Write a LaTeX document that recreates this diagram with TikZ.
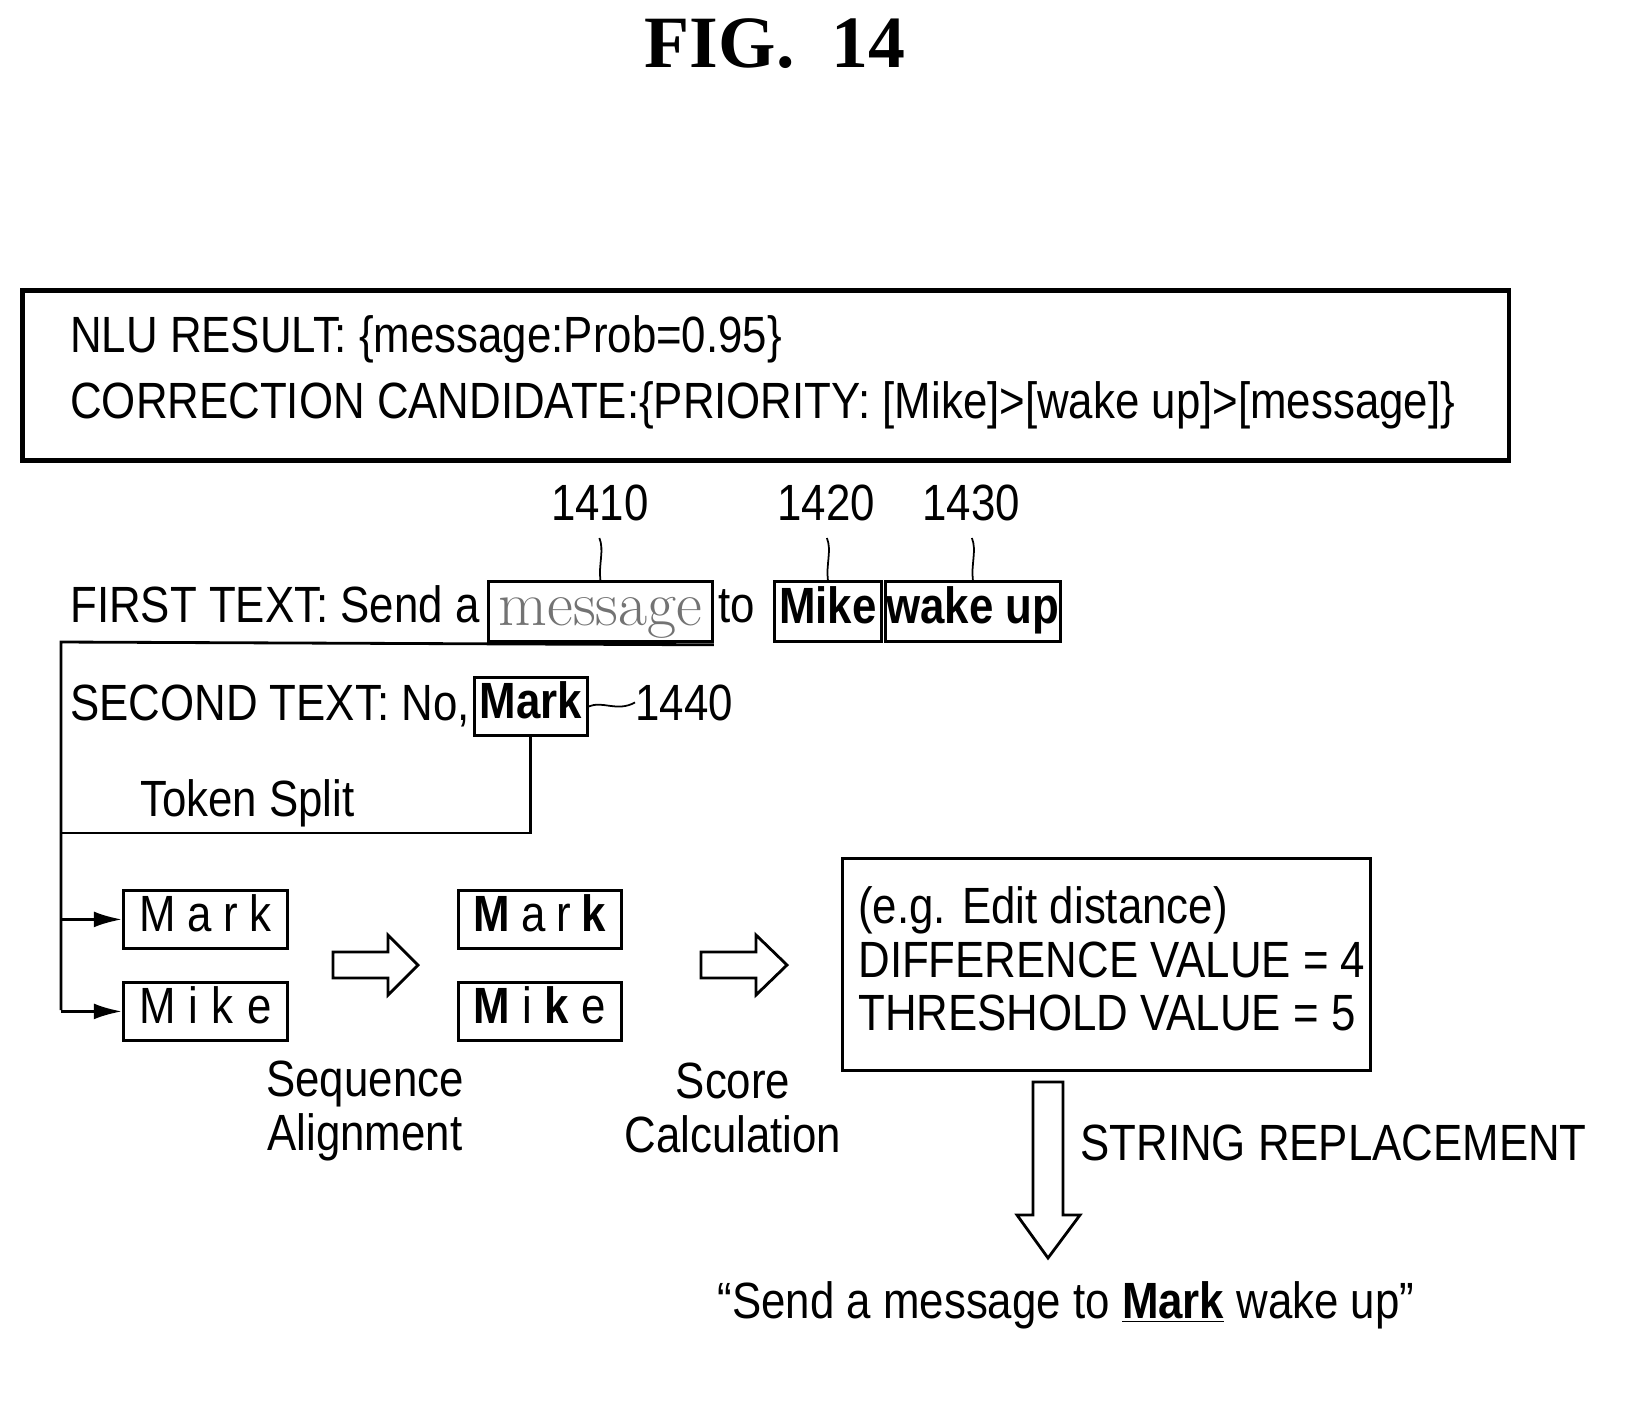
\documentclass[tikz,border=0pt]{standalone}
\usepackage{fontspec}
\setmainfont{Liberation Sans}[FakeStretch=0.86]
\newfontfamily\titlefont{Liberation Serif}
\newfontfamily\lmfont{Latin Modern Roman}
\usepackage{tikz}
\usetikzlibrary{arrows.meta}
\usetikzlibrary{calc}
\tikzset{
  txt/.style={anchor=base west,inner sep=0pt,font=\fontsize{29}{34}\selectfont},
  ctxt/.style={anchor=base,inner sep=0pt,font=\fontsize{29}{34}\selectfont},
  box/.style={draw,line width=1.6pt,inner sep=0pt,anchor=north west},
  lead/.style={line width=1pt},
  hollow/.style={draw,line width=1.6pt,fill=white,line join=miter}
}
\newcommand\spread[1]{\makebox[2.65cm][s]{#1}}
\begin{document}
\begin{tikzpicture}[x=0.02cm,y=-0.02cm]
  \useasboundingbox (0,0) rectangle (1645,1411);
  \node[anchor=base,font=\titlefont\bfseries\fontsize{42}{46}\selectfont] (title) at (775,67) {FIG.\ \ 14};
  % top box
  \node[draw,line width=2.6pt,minimum width=29.74cm,minimum height=3.4cm,anchor=north west] (nlu) at (20,288) {};
  \node[txt] (nluA) at (70,352) {NLU RESULT: \{message:Prob=0.95\}};
  \node[txt] (nluB) at (70,418) {CORRECTION CANDIDATE:\{PRIORITY: [Mike]>[wake up]>[message]\}};
  % first text
  \node[txt] (first) at (70,622) {FIRST TEXT: Send a};
  \node[box,minimum width=4.48cm,minimum height=1.2cm] (msg) at (487,580) {};
  \node[anchor=base,inner sep=0pt,font=\lmfont\fontsize{36}{40}\selectfont,text=black!55] at ($(msg.center)+(0,14)$) {message};
  \node[txt] (to) at (718,622) {to};
  \node[box,minimum width=2.14cm,minimum height=1.2cm] (mike) at (773,580) {};
  \node[ctxt,font=\bfseries\fontsize{29}{34}\selectfont] at ($(mike.center)+(0,12)$) {Mike};
  \node[box,minimum width=3.5cm,minimum height=1.2cm] (wake) at (884,580) {};
  \node[ctxt,font=\bfseries\fontsize{29}{34}\selectfont] at ($(wake.center)+(0,12)$) {wake up};
  % reference numerals
  \node[ctxt] (n1410) at (600,520) {1410};
  \node[ctxt] (n1420) at (826,520) {1420};
  \node[ctxt] (n1430) at (971,520) {1430};
  \draw[lead] (msg.north) .. controls ($(msg.north)+(-2,-15)$) and ($(msg.north)+(4,-30)$) .. ($(msg.north)+(-1,-42)$);
  \draw[lead] (mike.north) .. controls ($(mike.north)+(-2,-15)$) and ($(mike.north)+(4,-30)$) .. ($(mike.north)+(-1,-42)$);
  \draw[lead] (wake.north) .. controls ($(wake.north)+(-2,-15)$) and ($(wake.north)+(4,-30)$) .. ($(wake.north)+(-1,-42)$);
  % second text
  \node[txt] (second) at (70,720) {SECOND TEXT: No,};
  \node[box,minimum width=2.26cm,minimum height=1.16cm] (mark) at (473,676) {};
  \node[ctxt,font=\bfseries\fontsize{29}{34}\selectfont] at ($(mark.center)+(0,12)$) {Mark};
  \node[txt] (n1440) at (635,720) {1440};
  \draw[lead] (mark.east) .. controls ($(mark.east)+(14,-6)$) and ($(mark.east)+(28,6)$) .. (n1440.west);
  \node[txt] (split) at (140,816) {Token Split};
  % token split lines
  \coordinate (c0) at (61,642);
  \coordinate (c1) at (61,833);
  \draw[line width=1.6pt] ($(msg.south east)+(0,2)$) -- (c0) -- (61,1010);
  \draw[line width=1.6pt] (mark.south) -- (mark.south |- c1) -- (c1);
  % split tokens
  \node[box,minimum width=3.28cm,minimum height=1.16cm] (mark1) at (122,889) {};
  \node[ctxt] at ($(mark1.center)+(0,12)$) {\spread{M\hfill a\hfill r\hfill k}};
  \node[box,minimum width=3.28cm,minimum height=1.16cm] (mike1) at (122,981) {};
  \node[ctxt] at ($(mike1.center)+(0,12)$) {\spread{M\hfill i\hfill k\hfill e}};
  \draw[line width=1.6pt,-{Latex[length=16pt,width=9pt]}] (mark1.west -| c1) -- (mark1.west);
  \draw[line width=1.6pt,-{Latex[length=16pt,width=9pt]}] (mike1.west -| c1) -- (mike1.west);
  % aligned tokens
  \node[box,minimum width=3.26cm,minimum height=1.16cm] (mark2) at (457,889) {};
  \node[ctxt] at ($(mark2.center)+(0,12)$) {\spread{\textbf{M}\hfill a\hfill r\hfill \textbf{k}}};
  \node[box,minimum width=3.26cm,minimum height=1.16cm] (mike2) at (457,981) {};
  \node[ctxt] at ($(mike2.center)+(0,12)$) {\spread{\textbf{M}\hfill i\hfill \textbf{k}\hfill e}};
  % hollow arrows
  \path[hollow] (333,952) -- (388,952) -- (388,935) -- (418,965) -- (388,995) -- (388,978) -- (333,978) -- cycle;
  \path[hollow] (701,952) -- (756,952) -- (756,935) -- (787,965) -- (756,995) -- (756,978) -- (701,978) -- cycle;
  \node[ctxt] (seqA) at (365,1096) {Sequence};
  \node[ctxt] (seqB) at (365,1150) {Alignment};
  \node[ctxt] (scoreA) at (733,1098) {Score};
  \node[ctxt] (scoreB) at (733,1152) {Calculation};
  % score box
  \node[draw,line width=1.6pt,minimum width=10.56cm,minimum height=4.24cm,anchor=north west] (calc) at (841,857) {};
  \node[txt] (eg) at (858,923) {(e.g. Edit distance)};
  \node[txt] (diff) at (858,977) {DIFFERENCE VALUE = 4};
  \node[txt] (thr) at (858,1030) {THRESHOLD VALUE = 5};
  % replacement arrow
  \path[hollow] (1033,1082) -- (1063,1082) -- (1063,1215) -- (1080,1215) -- (1048,1258) -- (1017,1215) -- (1033,1215) -- cycle;
  \node[txt] (repl) at (1080,1160) {STRING REPLACEMENT};
  \node[ctxt] (result) at (1066,1318) {``Send a message to \underline{\textbf{Mark}} wake up''};
\end{tikzpicture}
\end{document}
